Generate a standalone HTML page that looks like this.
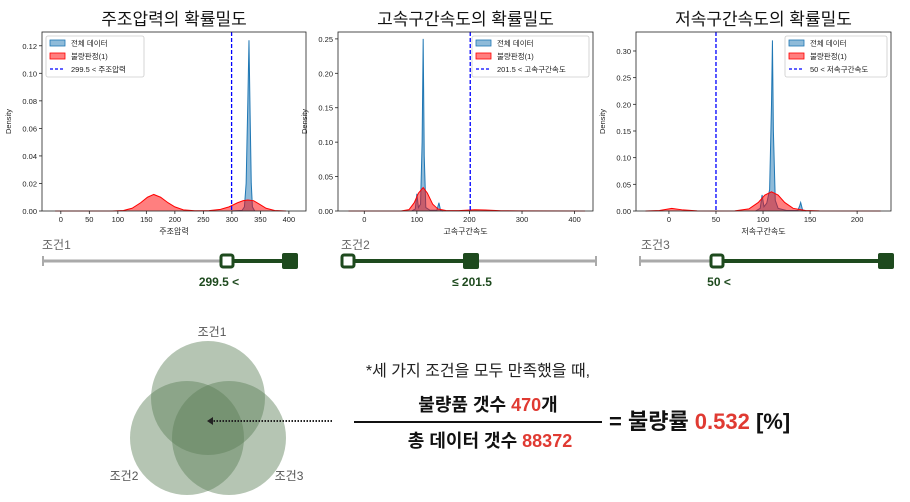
<!DOCTYPE html>
<html><head><meta charset="utf-8">
<style>
body{margin:0;background:#fff;font-family:"Liberation Sans","Noto Sans CJK KR",sans-serif;}
svg text{font-family:"Liberation Sans","Noto Sans CJK KR",sans-serif;}
</style></head>
<body>
<svg id="root" width="910" height="497" viewBox="0 0 910 497" xmlns="http://www.w3.org/2000/svg">
<g id="charts"></g>
<g id="sliders"></g>
<g>
  <circle cx="208" cy="398" r="57" fill="#5c7e56" fill-opacity="0.45"/>
  <circle cx="187" cy="438" r="57" fill="#5c7e56" fill-opacity="0.45"/>
  <circle cx="229" cy="438" r="57" fill="#5c7e56" fill-opacity="0.45"/>
  <text x="212" y="336" font-size="12" fill="#555" text-anchor="middle">조건1</text>
  <text x="124" y="480" font-size="12" fill="#555" text-anchor="middle">조건2</text>
  <text x="289" y="480" font-size="12" fill="#555" text-anchor="middle">조건3</text>
  <line x1="332" y1="421" x2="212" y2="421" stroke="#222" stroke-width="2" stroke-dasharray="1.5,1.5"/>
  <polygon points="207,421 213,417 213,425" fill="#222"/>
</g>
<g>
  <text x="478" y="376" font-size="16" fill="#222" text-anchor="middle">*세 가지 조건을 모두 만족했을 때,</text>
  <text x="488" y="411" font-size="18" font-weight="bold" fill="#111" text-anchor="middle">불량품 갯수 <tspan fill="#e03a32">470</tspan>개</text>
  <line x1="354" y1="422" x2="602" y2="422" stroke="#111" stroke-width="2"/>
  <text x="490" y="447" font-size="18" font-weight="bold" fill="#111" text-anchor="middle">총 데이터 갯수 <tspan fill="#e03a32">88372</tspan></text>
  <text x="609" y="429" font-size="22" font-weight="bold" fill="#111">= 불량률 <tspan fill="#e03a32">0.532</tspan> [%]</text>
</g>
</svg>
<script>
// Chart 1: 주조압력
const c1Title = "주조압력의 확률밀도";
const c1XTicks = [0,50,100,150,200,250,300,350,400];
const c1YTicks = [0,0.02,0.04,0.06,0.08,0.10,0.12];
const c1BlueX = [300,318,322,325,328,330,332,334,336,340];
const c1BlueY = [0,0.0005,0.003,0.02,0.08,0.124,0.07,0.02,0.003,0];
const c1RedX = [-10,90,110,125,140,152,163,175,188,200,215,235,260,280,295,310,320,328,338,348,360,375,395];
const c1RedY = [0,0,0.0004,0.002,0.006,0.010,0.012,0.010,0.006,0.003,0.0008,0.0002,0.0003,0.0012,0.003,0.006,0.0075,0.008,0.0075,0.005,0.002,0.0004,0];
const c1Thresh = 299.5;
// Chart 2: 고속구간속도
const c2Title = "고속구간속도의 확률밀도";
const c2XTicks = [0,100,200,300,400];
const c2YTicks = [0,0.05,0.10,0.15,0.20,0.25];
const c2BlueX = [90,97,100,103,107,110,112,114,117,125,138,142,145,150];
const c2BlueY = [0,0.003,0.025,0.005,0.01,0.1,0.25,0.08,0.005,0.001,0.001,0.012,0.001,0];
const c2RedX = [-30,70,85,95,103,112,120,130,140,155,180,210,230,260,300,420];
const c2RedY = [0,0,0.002,0.012,0.026,0.034,0.026,0.010,0.003,0.0008,0.0005,0.0018,0.0015,0.0004,0.0001,0];
const c2Thresh = 201.5;
// Chart 3: 저속구간속도
const c3Title = "저속구간속도의 확률밀도";
const c3XTicks = [0,50,100,150,200];
const c3YTicks = [0,0.05,0.10,0.15,0.20,0.25,0.30];
const c3BlueX = [92,97,99,101,104,107,109,110,111,113,116,125,137,139,140,142,146];
const c3BlueY = [0,0.005,0.03,0.008,0.015,0.04,0.2,0.32,0.15,0.02,0.005,0.001,0.001,0.01,0.016,0.002,0];
const c3RedX = [-25,-10,3,15,30,50,70,85,95,102,109,116,123,132,145,160,225];
const c3RedY = [0,0.001,0.005,0.002,0.0003,0,0.0003,0.004,0.016,0.03,0.036,0.03,0.016,0.005,0.001,0.0002,0];
const c3Thresh = 50;

const NS="http://www.w3.org/2000/svg";
function mk(tag,attrs,parent,txt){const e=document.createElementNS(NS,tag);for(const k in attrs)e.setAttribute(k,attrs[k]);if(txt!==undefined)e.textContent=txt;parent.appendChild(e);return e;}

const cfgs=[
 {title:c1Title,xt:c1XTicks,yt:c1YTicks,bx:c1BlueX,by:c1BlueY,rx:c1RedX,ry:c1RedY,th:c1Thresh,thLabel:"299.5 < 주조압력",xlabel:"주조압력",
  L:42,R:306,T:32,B:211,x0:-33,x1:430,yMax:0.13,yDec:2,legendRight:false,key:"casting-pressure"},
 {title:c2Title,xt:c2XTicks,yt:c2YTicks,bx:c2BlueX,by:c2BlueY,rx:c2RedX,ry:c2RedY,th:c2Thresh,thLabel:"201.5 < 고속구간속도",xlabel:"고속구간속도",
  L:338,R:593,T:32,B:211,x0:-50,x1:435,yMax:0.26,yDec:2,legendRight:true,key:"high-speed"},
 {title:c3Title,xt:c3XTicks,yt:c3YTicks,bx:c3BlueX,by:c3BlueY,rx:c3RedX,ry:c3RedY,th:c3Thresh,thLabel:"50 < 저속구간속도",xlabel:"저속구간속도",
  L:636,R:891,T:32,B:211,x0:-35,x1:236,yMax:0.3356,yDec:2,legendRight:true,key:"low-speed"}
];
const chartsG=document.getElementById('charts');
cfgs.forEach(c=>{
  const g=mk('g',{},chartsG);
  
  
  const sx=v=>c.L+(v-c.x0)/(c.x1-c.x0)*(c.R-c.L);
  const sy=v=>c.B-v/c.yMax*(c.B-c.T);
  const t=mk('text',{x:(c.L+c.R)/2,y:25,'font-size':17,'text-anchor':'middle',fill:'#111'},g,c.title);
  
  
  function area(xs,ys,fill,stroke,name){
    let d='M'+sx(xs[0])+','+sy(0);
    xs.forEach((x,i)=>{d+=' L'+sx(x)+','+sy(ys[i]);});
    d+=' L'+sx(xs[xs.length-1])+','+sy(0)+' Z';
    const p=mk('path',{d:d,fill:fill,'fill-opacity':0.5,stroke:'none'},g);
    
    
    let d2='M'+sx(xs[0])+','+sy(ys[0]);
    xs.forEach((x,i)=>{d2+=' L'+sx(x)+','+sy(ys[i]);});
    const l=mk('path',{d:d2,fill:'none',stroke:stroke,'stroke-width':1},g);
    
    
  }
  area(c.bx,c.by,'#1f77b4','#1f77b4','all-data');
  area(c.rx,c.ry,'#ff0000','#ff0000','defect');
  const th=mk('line',{x1:sx(c.th),x2:sx(c.th),y1:c.T,y2:c.B,stroke:'#0000ff','stroke-width':1.3,'stroke-dasharray':'4,2'},g);
  
  
  const fr=mk('rect',{x:c.L,y:c.T,width:c.R-c.L,height:c.B-c.T,fill:'none',stroke:'#222','stroke-width':0.8},g);
  
  
  c.xt.forEach(v=>{
    mk('line',{x1:sx(v),x2:sx(v),y1:c.B,y2:c.B+3,stroke:'#222','stroke-width':0.8},g);
    const tt=mk('text',{x:sx(v),y:c.B+11,'font-size':7.5,'text-anchor':'middle',fill:'#222'},g,String(v));
    
    
  });
  c.yt.forEach(v=>{
    mk('line',{x1:c.L-3,x2:c.L,y1:sy(v),y2:sy(v),stroke:'#222','stroke-width':0.8},g);
    const tt=mk('text',{x:c.L-5,y:sy(v)+3,'font-size':7.5,'text-anchor':'end',fill:'#222'},g,v.toFixed(c.yDec));
    
    
  });
  const xl=mk('text',{x:(c.L+c.R)/2,y:c.B+23,'font-size':8,'text-anchor':'middle',fill:'#222'},g,c.xlabel);
  
  
  const yl=mk('text',{x:0,y:0,'font-size':7.5,'text-anchor':'middle',fill:'#222',transform:'translate('+(c.L-31)+','+((c.T+c.B)/2)+') rotate(-90)'},g,'Density');
  
  
  const lw=c.legendRight?(c.key==='high-speed'?117:102):98;
  const lx=c.legendRight?c.R-lw-4:c.L+4, ly=c.T+4;
  const lg=mk('g',{},g);
  
  
  mk('rect',{x:lx,y:ly,width:lw,height:41,fill:'#fff','fill-opacity':0.85,stroke:'#ccc','stroke-width':0.8,rx:2},lg);
  mk('rect',{x:lx+4,y:ly+4,width:15,height:6,fill:'#1f77b4','fill-opacity':0.5,stroke:'#1f77b4','stroke-width':0.8},lg);
  mk('text',{x:lx+25,y:ly+10,'font-size':7.5,fill:'#222'},lg,'전체 데이터');
  mk('rect',{x:lx+4,y:ly+17,width:15,height:6,fill:'#ff0000','fill-opacity':0.5,stroke:'#ff0000','stroke-width':0.8},lg);
  mk('text',{x:lx+25,y:ly+23,'font-size':7.5,fill:'#222'},lg,'불량판정(1)');
  mk('line',{x1:lx+4,x2:lx+19,y1:ly+33,y2:ly+33,stroke:'#0000ff','stroke-width':1.3,'stroke-dasharray':'3,2'},lg);
  mk('text',{x:lx+25,y:ly+36,'font-size':7.5,fill:'#222'},lg,c.thLabel);
});

const slGroup=document.getElementById('sliders');
const sliders=[
 {label:'조건1',lx:42,x0:43,x1:290,open:227,filled:290,val:'299.5 <',vx:219,key:'condition1'},
 {label:'조건2',lx:341,x0:348,x1:596,open:348,filled:471,val:'≤ 201.5',vx:472,key:'condition2'},
 {label:'조건3',lx:641,x0:640,x1:886,open:717,filled:886,val:'50 <',vx:719,key:'condition3'}
];
sliders.forEach(s=>{
  const g=mk('g',{},slGroup);
  
  
  const tl=mk('text',{x:s.lx,y:249,'font-size':12,fill:'#666'},g,s.label);
  
  
  mk('line',{x1:s.x0,x2:s.x1,y1:261,y2:261,stroke:'#aaa','stroke-width':3},g);
  const endX = s.x0===s.open ? s.x1 : s.x0;
  mk('line',{x1:endX,x2:endX,y1:256,y2:266,stroke:'#aaa','stroke-width':2},g);
  mk('line',{x1:s.open,x2:s.filled,y1:261,y2:261,stroke:'#1e4a1e','stroke-width':4},g);
  const h1=mk('rect',{x:s.open-6,y:255,width:12,height:12,rx:2,fill:'#fff',stroke:'#1e4a1e','stroke-width':3},g);
  
  
  const h2=mk('rect',{x:s.filled-8,y:253,width:16,height:16,rx:2,fill:'#1e4a1e'},g);
  
  
  const vt=mk('text',{x:s.vx,y:286,'font-size':12,'font-weight':'bold',fill:'#1e4a1e','text-anchor':'middle'},g,s.val);
  
  
});
</script>
</body></html>
